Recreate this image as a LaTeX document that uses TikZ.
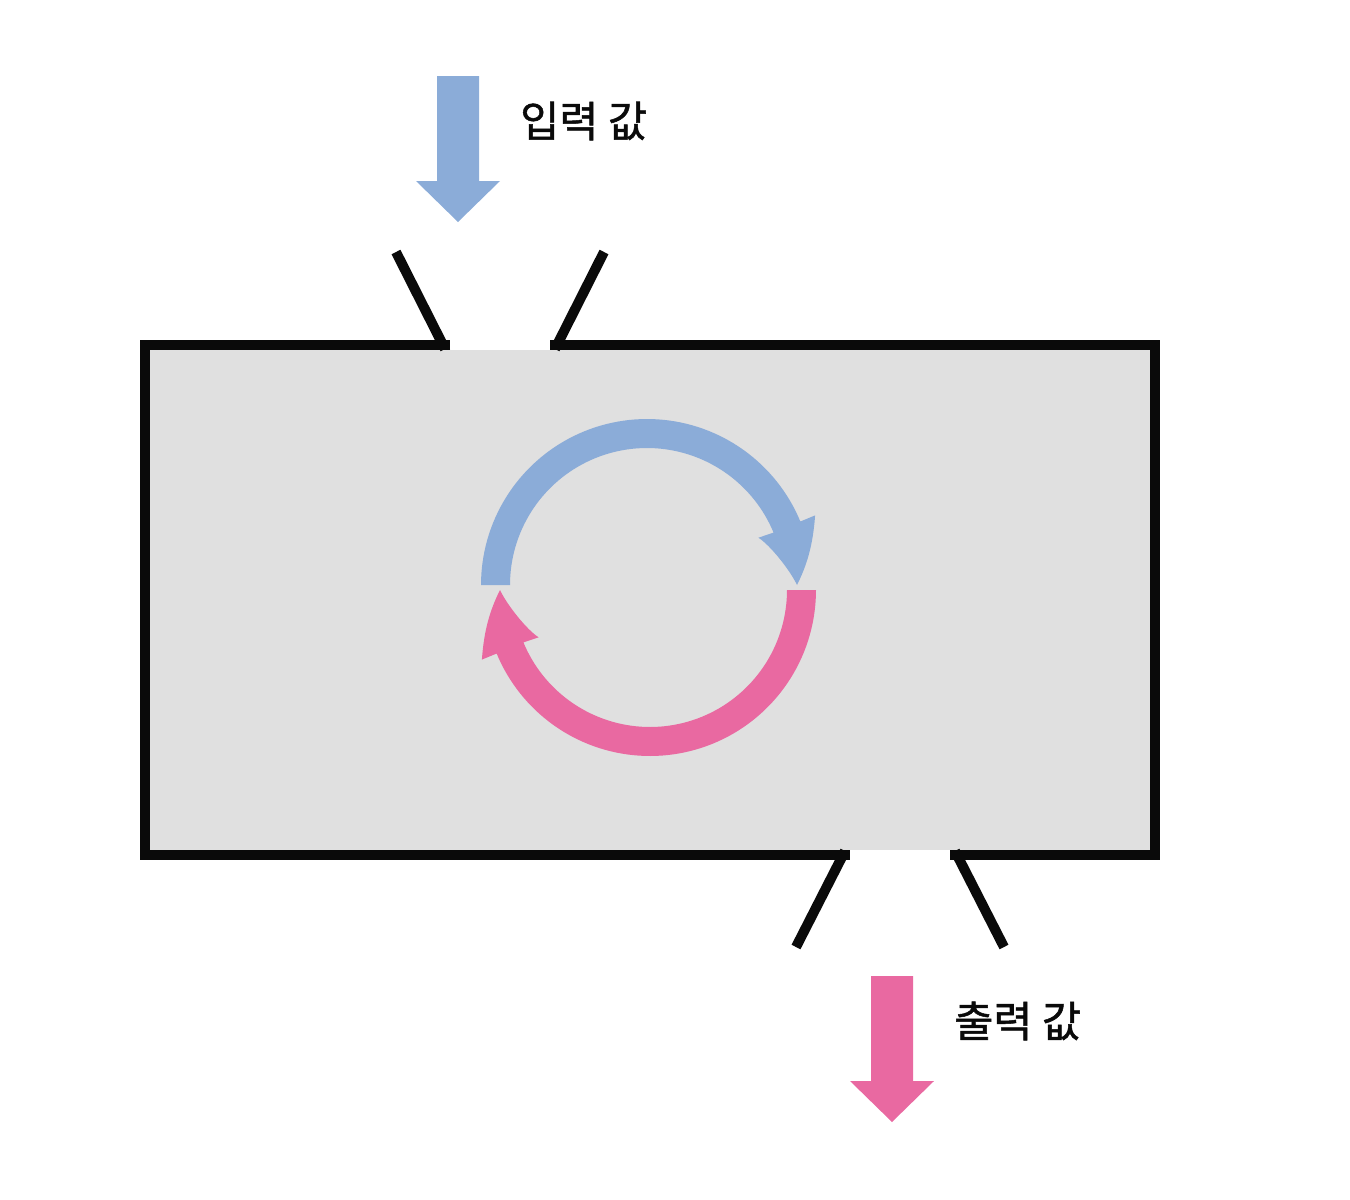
\documentclass[tikz,border=0pt]{standalone}
\usepackage{fontspec}
\newfontfamily\krfont{Noto Sans CJK KR}[FakeBold=1.2]
\definecolor{flowblue}{HTML}{8BACD8}
\definecolor{flowpink}{HTML}{E969A1}
\definecolor{boxgray}{HTML}{E0E0E0}
\definecolor{ink}{HTML}{0A0A0A}
\tikzset{
  wall/.style={draw=ink, line width=10pt, line cap=butt, line join=miter},
  lbl/.style={anchor=west, inner sep=0pt, font=\krfont\fontsize{42.5}{50}\selectfont, text=ink},
}
\newcommand{\cyclearrow}[1]{%
  \fill[#1] plot[domain=180:22.5, samples=80] ({166*cos(\x)},{-166*sin(\x)})
     -- (168.1,-69.6) .. controls (166,-40) and (160,-20) .. (150,0)
     .. controls (143,-15) and (123,-40) .. (111.4,-47.3)
     -- (126.6,-52.4)
     -- plot[domain=22.5:180, samples=80] ({137*cos(\x)},{-137*sin(\x)})
     -- cycle;}
\begin{document}
\begin{tikzpicture}[x=1pt,y=-1pt]
\useasboundingbox (0,0) rectangle (1350,1200);
% box
\fill[boxgray] (145,350) rectangle (1154.5,850);
\draw[wall] (450,345) -- (145,345) -- (145,854.5) -- (850,854.5);
\draw[wall] (950,854.5) -- (1154.5,854.5) -- (1154.5,345) -- (550,345);
% funnels
\coordinate (tl1) at (396,252); \coordinate (tl2) at (445,349);
\coordinate (tr1) at (604,252); \coordinate (tr2) at (555,349);
\coordinate (bl1) at (845,851); \coordinate (bl2) at (796,947);
\coordinate (br1) at (955,851); \coordinate (br2) at (1004,947);
\draw[wall] (tl1) -- (tl2);
\draw[wall] (tr1) -- (tr2);
\draw[wall] (bl1) -- (bl2);
\draw[wall] (br1) -- (br2);
% block arrows
\fill[flowblue] (437,76) -- (479,76) -- (479,181) -- (500,181) -- (458,222) -- (416,181) -- (437,181) -- cycle;
\fill[flowpink] (871,976) -- (913,976) -- (913,1081) -- (934,1081) -- (892,1122) -- (850,1081) -- (871,1081) -- cycle;
% labels
\node[lbl] (in) at (520,121) {입력 값};
\node[lbl] (out) at (954,1021) {출력 값};
% cycle arrows
\begin{scope}[shift={(647,585)}]
  \cyclearrow{flowblue}
\end{scope}
\begin{scope}[shift={(650,590)}, rotate=180]
  \cyclearrow{flowpink}
\end{scope}
\end{tikzpicture}
\end{document}
